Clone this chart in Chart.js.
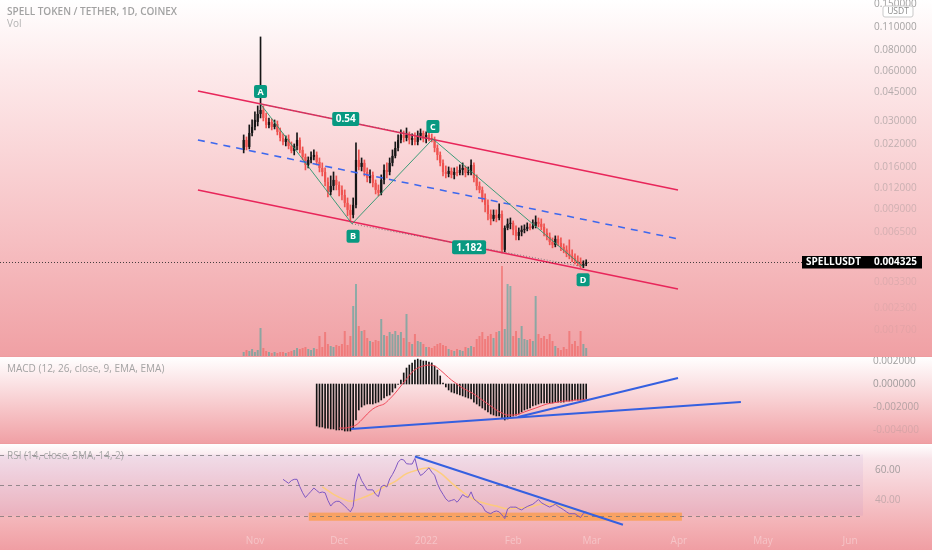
<!DOCTYPE html>
<html>
<head>
<meta charset="utf-8">
<title>SPELLUSDT</title>
<script src="https://cdn.jsdelivr.net/npm/chart.js@4.4.1/dist/chart.umd.min.js"></script>
<style>
html,body{margin:0;padding:0;}
body{width:932px;height:550px;overflow:hidden;background:#ee9ca0;position:relative;font-family:'Open Sans',sans-serif;}
.pane{position:absolute;left:0;width:932px;}
#pane1{top:0;height:356px;background:linear-gradient(to bottom,#ffffff 0px,#fdeaeb 70px,#fad6d8 150px,#f6bfc2 240px,#f0a0a4 356px);}
#pane2{top:357px;height:86px;background:linear-gradient(to bottom,#ffffff 0%,#fbe3e5 30%,#f6c1c4 65%,#f0a0a5 100%);}
#pane3{top:444px;height:106px;background:linear-gradient(to bottom,#ffffff 0%,#f9e4e9 14%,#f6cbd0 45%,#f3b0b4 78%,#f09ea3 100%);}
canvas{position:absolute;left:0;top:0;}
.lbl{position:absolute;left:7px;font-size:10px;line-height:14px;white-space:nowrap;z-index:5;}
</style>
</head>
<body>
<div class="pane" id="pane1"><canvas id="c1" width="932" height="356"></canvas></div>
<div class="pane" id="pane2"><canvas id="c2" width="932" height="86"></canvas></div>
<div class="pane" id="pane3"><canvas id="c3" width="932" height="106"></canvas></div>
<div class="lbl" style="top:4px;font-weight:600;color:#a2a2a2">SPELL TOKEN / TETHER, 1D, COINEX</div>
<div class="lbl" style="top:16px;color:#b3b3b3">Vol</div>
<div class="lbl" style="top:361px;color:#a3a3a3">MACD (12, 26, close, 9, EMA, EMA)</div>
<div class="lbl" style="top:448px;color:#a8a8a8">RSI (14, close, SMA, 14, 2)</div>
<script>
Chart.defaults.font.family = "'Open Sans', sans-serif";
Chart.defaults.font.size = 10;

// ---------- DATA ----------
// day index counted from 1 Nov 2021 (first candle = 28 Oct 2021)
const firstDay = -4;
const openP = [.02027,.02325,.02112,.02560,.02780,.02978,.03324,.03512,.03146,.02858,
.02978,.02780,.02897,.02595,.02390,.02262,.02357,.02141,.01999,.02141,
.02325,.02027,.01841,.01649,.01766,.01841,.01892,.01718,.01582,.01497,
.01305,.01137,.01235,.01341,.01252,.01169,.01091,.00978,.00888,.00829,
.00951,.01766,.01604,.01695,.01497,.01379,.01437,.01287,.01169,.01122,
.01341,.01539,.01497,.01695,.01866,.02083,.02325,.02491,.02390,.02491,
.02325,.02390,.02262,.02457,.02560,.02357,.02491,.02390,.02325,.02083,
.01892,.01695,.01497,.01457,.01518,.01437,.01497,.01477,.01539,.01582,
.01477,.01497,.01649,.01379,.01235,.01169,.01047,.00951,.00840,.00785,
.00829,.00795,.00840,.00513,.00693,.00733,.00743,.00675,.00621,.00656,
.00675,.00684,.00703,.00693,.00713,.00753,.00733,.00703,.00647,.00613,
.00572,.00549,.00596,.00564,.00534,.00513,.00485,.00472,.00459,.00441,
.00435,.00412,.00423];
const highP = [.02491,.02423,.02858,.03061,.03417,.03711,.0959,.03711,.03370,.03146,
.03103,.03061,.03019,.02742,.02525,.02457,.02491,.02262,.02201,.02560,
.02390,.02112,.01918,.01841,.01972,.02027,.01972,.01815,.01695,.01582,
.01379,.01417,.01497,.01417,.01305,.01235,.01169,.01047,.00951,.01047,
.02231,.02027,.01815,.01766,.01582,.01539,.01497,.01341,.01252,.01437,
.01649,.01695,.01815,.02027,.02262,.02491,.02668,.02631,.02742,.02595,
.02525,.02560,.02631,.02705,.02631,.02595,.02668,.02525,.02423,.02171,
.01972,.01766,.01626,.01604,.01582,.01582,.01604,.01649,.01695,.01626,
.01604,.01766,.01695,.01437,.01305,.01218,.01106,.01019,.00888,.00888,
.00888,.00964,.00876,.00713,.00785,.00795,.00763,.00713,.00693,.00713,
.00723,.00743,.00733,.00774,.00818,.00795,.00785,.00733,.00684,.00647,
.00604,.00621,.00621,.00604,.00557,.00542,.00588,.00513,.00485,.00472,
.00459,.00441,.00447];
const lowP = [.01945,.02027,.02055,.02457,.02668,.02819,.03146,.03019,.02742,.02742,
.02668,.02705,.02491,.02293,.02171,.02141,.02055,.01945,.01892,.02027,
.01945,.01766,.01539,.01582,.01695,.01766,.01649,.01497,.01417,.01235,
.01062,.01091,.01169,.01169,.01076,.01019,.00925,.00818,.00753,.00795,
.00913,.01539,.01518,.01417,.01305,.01287,.01218,.01106,.01076,.01091,
.01270,.01379,.01437,.01626,.01815,.01999,.02231,.02262,.02293,.02201,
.02171,.02171,.02171,.02325,.02262,.02231,.02293,.02262,.01972,.01766,
.01626,.01417,.01379,.01398,.01379,.01360,.01417,.01437,.01437,.01398,
.01437,.01437,.01305,.01169,.01122,.00991,.00864,.00774,.00723,.00763,
.00753,.00774,.00492,.00499,.00675,.00684,.00630,.00588,.00588,.00621,
.00647,.00665,.00675,.00684,.00693,.00703,.00675,.00621,.00588,.00549,
.00527,.00534,.00542,.00506,.00492,.00466,.00453,.00435,.00423,.00412,
.00401,.00401,.00412];
const closeP = [.02325,.02112,.02560,.02780,.03061,.03324,.03512,.03146,.02858,.02978,
.02780,.02897,.02595,.02390,.02262,.02357,.02141,.01999,.02141,.02325,
.02027,.01841,.01649,.01766,.01841,.01892,.01718,.01582,.01497,.01305,
.01137,.01235,.01341,.01252,.01169,.01091,.00978,.00888,.00829,.00951,
.01766,.01604,.01695,.01497,.01379,.01437,.01287,.01169,.01122,.01341,
.01539,.01497,.01695,.01866,.02083,.02325,.02491,.02390,.02491,.02325,
.02390,.02262,.02457,.02560,.02357,.02491,.02390,.02325,.02083,.01892,
.01695,.01497,.01457,.01518,.01437,.01497,.01477,.01539,.01582,.01477,
.01497,.01649,.01379,.01235,.01169,.01047,.00951,.00840,.00785,.00829,
.00795,.00840,.00513,.00693,.00733,.00743,.00675,.00621,.00656,.00675,
.00684,.00703,.00693,.00713,.00753,.00733,.00703,.00647,.00613,.00572,
.00549,.00596,.00564,.00534,.00513,.00485,.00472,.00459,.00441,.00435,
.00412,.00423,.004325];
// volume (millions of SPELL)
const volume = [160,240,200,280,160,240,1120,320,200,160,
120,160,120,160,160,120,160,200,240,320,
280,320,360,280,240,320,280,800,360,960,
480,400,360,440,400,480,1000,440,800,2000,
2880,1200,1000,1040,720,600,560,640,600,1480,
840,800,960,880,1000,840,960,720,1680,560,
480,880,600,560,480,360,360,320,400,480,
520,440,400,280,240,200,280,240,200,360,
320,400,360,680,800,960,680,800,880,720,
960,1000,3600,1080,2880,2800,800,1000,720,1200,
680,640,680,600,2400,880,720,800,680,880,
600,400,320,240,360,280,1000,480,600,400,
1000,480,320];
const lastPrice = 0.004325;

// MACD (histogram-style MACD line from day 22, signal line)
const macdStart = 22;
const macdHist = [-0.00365,-0.00374,-0.00374,-0.00383,-0.00383,-0.00391,-0.00391,-0.00400,-0.00400,-0.00400,
-0.00409,-0.00409,-0.00409,-0.00383,-0.00313,-0.00226,-0.00200,-0.00183,-0.00174,-0.00174,
-0.00174,-0.00165,-0.00157,-0.00139,-0.00122,-0.00104,-0.00096,-0.00070,-0.00035,-0.00003,
0.00035,0.00096,0.00139,0.00165,0.00183,0.00209,0.00217,0.00209,0.00200,0.00200,
0.00191,0.00183,0.00157,0.00122,0.00070,0.00009,-0.00026,-0.00052,-0.00070,-0.00078,
-0.00087,-0.00096,-0.00104,-0.00113,-0.00122,-0.00130,-0.00157,-0.00174,-0.00191,-0.00209,
-0.00226,-0.00243,-0.00261,-0.00270,-0.00278,-0.00278,-0.00296,-0.00313,-0.00304,-0.00296,
-0.00278,-0.00270,-0.00261,-0.00243,-0.00226,-0.00217,-0.00209,-0.00191,-0.00183,-0.00174,
-0.00165,-0.00165,-0.00165,-0.00165,-0.00165,-0.00157,-0.00157,-0.00157,-0.00157,-0.00148,
-0.00148,-0.00148,-0.00139,-0.00139,-0.00139,-0.00139,-0.00130];
const signalDays = [30,32,34,36,38,40,42,44,46,48,50,52,54,56,58,60,62,64,66,68,70,72,74,76,78,80,82,84,86,88,90,92,94,96,98,100,102,104,106,108,110,112,114,116,118];
const signalVals = [-0.00383,-0.00383,-0.00374,-0.00357,-0.00313,-0.00261,-0.00217,-0.00191,-0.00174,-0.00130,
-0.00078,-0.00017,0.00043,0.00104,0.00139,0.00157,0.00165,0.00157,0.00122,0.00078,
0.00035,0.00000,-0.00035,-0.00061,-0.00087,-0.00122,-0.00157,-0.00191,-0.00226,-0.00252,
-0.00270,-0.00270,-0.00261,-0.00243,-0.00226,-0.00209,-0.00191,-0.00174,-0.00165,-0.00157,
-0.00148,-0.00148,-0.00139,-0.00139,-0.00130];

// RSI (14) from day 10 and its SMA
const rsiStart = 10;
const rsiVals = [53.8,52.5,51.2,53.0,53.8,53.8,49.0,45.0,41.9,44.0,
46.0,48.1,46.5,45.0,45.5,45.0,40.0,36.3,38.5,39.4,
39.4,38.0,36.3,34.5,32.5,36.0,52.0,57.5,53.0,50.0,
46.9,46.9,46.9,44.0,42.5,49.0,50.0,48.8,54.0,57.0,
60.6,65.0,66.9,66.5,64.0,63.8,63.8,67.5,60.0,56.3,
57.5,59.5,61.3,58.5,56.5,51.0,47.0,44.0,41.0,39.4,
40.0,40.6,38.8,41.0,43.8,42.5,42.0,45.6,41.0,39.4,
37.8,36.5,33.1,32.0,31.3,32.5,33.1,32.5,30.5,28.1,
34.4,35.6,35.6,35.6,34.5,33.8,35.0,36.0,36.8,37.5,
39.0,40.6,38.5,37.5,36.5,35.6,36.5,37.5,36.0,35.0,
33.8,32.5,31.3,31.3,31.3,30.0,28.8,31.5,32.5];
const rsiMaDays = [24,28,32,34,38,42,46,50,54,58,62,66,70,74,78,82,86,90,94,98,102,106,110,114,118];
const rsiMaVals = [48.8,44.0,40.5,39.4,41.5,44.5,48.8,52.5,57.5,60.0,61.3,58.0,51.5,45.5,40.6,38.0,36.3,34.5,35.0,35.6,37.5,37.5,35.6,33.8,32.5];
const rsiLevels = [70, 50, 30];

// Drawings (day, value)
const channelDays = [-20.3, 150.7];
const channelUpper = [0.0456, 0.01169];
const channelMid = [0.02325, 0.00596];
const channelLower = [0.01169, 0.002992];
const pivotNames = ['A','B','C','D'];
const pivotDays = [2, 34.6, 63.4, 116.9];
const pivotPrices = [0.0381, 0.00733, 0.02357, 0.00406];
const ratioLabels = ['0.54', '1.182'];
const macdTrend1Days = [34.2, 173.1], macdTrend1Vals = [-0.00391, -0.00157];
const macdTrend2Days = [93.7, 150.7], macdTrend2Vals = [-0.00287, 0.00052];
const rsiTrendDays = [57, 131.1], rsiTrendVals = [68.7, 24.1];
const rsiZoneDays = [19.2, 152.1], rsiZoneVals = [26.7, 32.0];

// Axes
const priceTicks = [0.15,0.11,0.08,0.06,0.045,0.03,0.022,0.016,0.012,0.009,0.0065,0.0033,0.0023,0.0017];
const macdTicks = [0.002, 0, -0.002, -0.004];
const rsiTicks = [60, 40];
const monthDays = [0, 30, 61, 92, 120, 151, 181, 212];
const monthLabels = ['Nov','Dec','2022','Feb','Mar','Apr','May','Jun'];
const xRange = [-90.8, 216.6];
const priceRange = [0.00119, 0.1594];
const volRange = [0, 14240];
const macdRange = [-0.00513, 0.002348];
const rsiRange = [22.6, 75.6];

// ---------- HELPERS ----------
const days = openP.map((_, i) => firstDay + i);
const isUp = closeP.map((c, i) => c >= openP[i]);
const candleCol = isUp.map(u => u ? '#161616' : '#ef5350');
const volCol = isUp.map(u => u ? 'rgba(38,166,154,0.5)' : 'rgba(239,83,80,0.5)');
const pts = (xs, ys) => xs.map((x, i) => ({x, y: ys[i]}));
const seq = (start, vals) => vals.map((v, i) => ({x: start + i, y: v}));

function rightAxis(extra) {
  return Object.assign({
    position: 'right',
    grid: {display: false, drawTicks: false},
    border: {display: false},
    afterFit(s) { s.width = 69; s.paddingTop = 0; s.paddingBottom = 0; }
  }, extra);
}
function xAxis(extra) {
  return Object.assign({
    type: 'linear', min: xRange[0], max: xRange[1], offset: false, display: false,
    grid: {display: false, drawTicks: false}, border: {display: false}
  }, extra);
}
const baseOpts = () => ({
  responsive: false, maintainAspectRatio: false, animation: false, events: [],
  plugins: {legend: {display: false}, tooltip: {enabled: false}},
  layout: {padding: 0}
});
function roundRect(ctx, x, y, w, h, r) {
  ctx.beginPath();
  ctx.moveTo(x + r, y);
  ctx.arcTo(x + w, y, x + w, y + h, r);
  ctx.arcTo(x + w, y + h, x, y + h, r);
  ctx.arcTo(x, y + h, x, y, r);
  ctx.arcTo(x, y, x + w, y, r);
  ctx.closePath();
}
function tag(ctx, text, cx, cy, w, h, font) {
  roundRect(ctx, cx - w / 2, cy - h / 2, w, h, 2);
  ctx.fillStyle = '#089981'; ctx.fill();
  ctx.fillStyle = '#ffffff'; ctx.font = font;
  ctx.textAlign = 'center'; ctx.textBaseline = 'middle';
  ctx.fillText(text, cx, cy + 0.5);
}
function line(data, color, width, dash, order, extra) {
  return Object.assign({type: 'line', data, borderColor: color, borderWidth: width, borderDash: dash || [],
    pointRadius: 0, fill: false, tension: 0, order, yAxisID: 'y'}, extra || {});
}

// ---------- MAIN PRICE PANE ----------
const mainPlugin = {
  id: 'mainDecor',
  afterDraw(chart) {
    const {ctx, chartArea: a, scales: {x, y}} = chart;
    ctx.save();
    const py = Math.round(y.getPixelForValue(lastPrice)) + 0.5;
    ctx.strokeStyle = 'rgba(40,40,40,0.85)'; ctx.lineWidth = 1; ctx.setLineDash([1, 2]);
    ctx.beginPath(); ctx.moveTo(a.left, py); ctx.lineTo(a.right - 61, py); ctx.stroke();
    ctx.setLineDash([]);
    const pp = pivotDays.map((d, i) => [x.getPixelForValue(d), y.getPixelForValue(pivotPrices[i])]);
    const offs = [-12.5, 12.5, -12.5, 13];
    pivotNames.forEach((n, i) => tag(ctx, n, pp[i][0] + (i === 1 ? 1 : 0), pp[i][1] + offs[i], 13, 13, 'bold 9px "Open Sans"'));
    const m1 = [(pp[0][0] + pp[2][0]) / 2, (pp[0][1] + pp[2][1]) / 2];
    const m2 = [(pp[1][0] + pp[3][0]) / 2, (pp[1][1] + pp[3][1]) / 2];
    tag(ctx, ratioLabels[0], m1[0] - 1, m1[1] - 2.5, 27, 14, 'bold 10px "Open Sans"');
    tag(ctx, ratioLabels[1], m2[0] + 1.5, m2[1] + 2, 34, 14, 'bold 10px "Open Sans"');
    // last price label
    ctx.fillStyle = '#000'; ctx.fillRect(a.right - 61, py - 6.5, 120, 12.5);
    ctx.fillStyle = '#fff'; ctx.font = 'bold 10px "Open Sans"';
    ctx.textAlign = 'left'; ctx.textBaseline = 'middle';
    ctx.fillText('SPELLUSDT', a.right - 57, py);
    ctx.fillText(lastPrice.toFixed(6), a.right + 11, py);
    // currency box
    roundRect(ctx, a.right + 20, 6, 30, 11, 2);
    ctx.fillStyle = '#fff'; ctx.fill(); ctx.strokeStyle = '#c9c9c9'; ctx.lineWidth = 1; ctx.stroke();
    ctx.fillStyle = '#8c8c8c'; ctx.font = '8.5px "Open Sans"'; ctx.textAlign = 'center';
    ctx.fillText('USDT', a.right + 35, 11.8);
    ctx.restore();
  }
};

new Chart(document.getElementById('c1'), {
  type: 'bar',
  data: {datasets: [
    line(pts(channelDays, channelUpper), '#e8265a', 1.6, null, 2),
    line(pts(channelDays, channelMid), '#3d68ee', 1.6, [7, 6], 2),
    line(pts(channelDays, channelLower), '#e8265a', 1.6, null, 2),
    line(pts(pivotDays, pivotPrices), 'rgba(40,150,110,0.9)', 1, null, 1),
    line(pts([pivotDays[0], pivotDays[2]], [pivotPrices[0], pivotPrices[2]]), 'rgba(110,110,110,0.8)', 1, [1, 2], 1),
    line(pts([pivotDays[1], pivotDays[3]], [pivotPrices[1], pivotPrices[3]]), 'rgba(110,110,110,0.8)', 1, [1, 2], 1),
    {type: 'bar', data: days.map((d, i) => ({x: d, y: [lowP[i], highP[i]]})), backgroundColor: candleCol,
      grouped: false, categoryPercentage: 1, barPercentage: 1, maxBarThickness: 1, order: 5, yAxisID: 'y'},
    {type: 'bar', data: days.map((d, i) => ({x: d, y: [openP[i], closeP[i]]})), backgroundColor: candleCol,
      grouped: false, categoryPercentage: 1, barPercentage: 0.8, minBarLength: 1, order: 4, yAxisID: 'y'},
    {type: 'bar', data: days.map((d, i) => ({x: d, y: volume[i]})), backgroundColor: volCol,
      grouped: false, categoryPercentage: 1, barPercentage: 0.7, order: 10, yAxisID: 'yv'}
  ]},
  options: Object.assign(baseOpts(), {
    scales: {
      x: xAxis(),
      y: rightAxis({
        type: 'logarithmic', min: priceRange[0], max: priceRange[1], bounds: 'data',
        afterBuildTicks(s) { s.ticks = priceTicks.map(v => ({value: v})); },
        ticks: {
          autoSkip: false, padding: 11, crossAlign: 'near', font: {size: 10},
          callback: v => Number(v).toFixed(6),
          color: c => {
            const f = (Math.log(priceRange[1]) - Math.log(c.tick.value)) / (Math.log(priceRange[1]) - Math.log(priceRange[0]));
            return 'rgba(135,135,135,' + Math.max(0.12, 0.82 - 0.78 * f).toFixed(2) + ')';
          }
        }
      }),
      yv: {type: 'linear', display: false, min: volRange[0], max: volRange[1]}
    }
  }),
  plugins: [mainPlugin]
});

// ---------- MACD PANE ----------
new Chart(document.getElementById('c2'), {
  type: 'bar',
  data: {datasets: [
    line(pts(macdTrend1Days, macdTrend1Vals), '#3560e0', 2, null, 1),
    line(pts(macdTrend2Days, macdTrend2Vals), '#3560e0', 2, null, 1),
    line(pts(signalDays, signalVals), '#ef4a5a', 1, null, 2, {tension: 0.4, cubicInterpolationMode: 'monotone'}),
    {type: 'bar', data: seq(macdStart, macdHist), backgroundColor: '#141414',
      grouped: false, categoryPercentage: 1, barPercentage: 1, maxBarThickness: 1, order: 5, yAxisID: 'y'}
  ]},
  options: Object.assign(baseOpts(), {
    scales: {
      x: xAxis(),
      y: rightAxis({
        type: 'linear', min: macdRange[0], max: macdRange[1],
        afterBuildTicks(s) { s.ticks = macdTicks.map(v => ({value: v})); },
        ticks: {
          autoSkip: false, padding: 10, crossAlign: 'near', font: {size: 10},
          callback: v => Number(v).toFixed(6),
          color: c => c.tick.value < -0.003 ? 'rgba(135,135,135,0.25)' : (c.tick.value < -0.001 ? 'rgba(135,135,135,0.6)' : 'rgba(135,135,135,0.8)')
        }
      })
    }
  })
});

// ---------- RSI PANE ----------
const rsiPlugin = {
  id: 'rsiDecor',
  beforeDatasetsDraw(chart) {
    const {ctx, chartArea: a, scales: {x, y}} = chart;
    ctx.save();
    const t = y.getPixelForValue(rsiLevels[0]), b = y.getPixelForValue(rsiLevels[2]);
    ctx.fillStyle = 'rgba(126,87,194,0.07)';
    ctx.fillRect(a.left, t, a.right - a.left, b - t);
    const zx0 = x.getPixelForValue(rsiZoneDays[0]), zx1 = x.getPixelForValue(rsiZoneDays[1]);
    const zy0 = y.getPixelForValue(rsiZoneVals[1]), zy1 = y.getPixelForValue(rsiZoneVals[0]);
    ctx.fillStyle = 'rgba(255,150,40,0.6)';
    ctx.fillRect(zx0, zy0, zx1 - zx0, zy1 - zy0);
    ctx.strokeStyle = 'rgba(110,110,110,0.7)'; ctx.lineWidth = 1; ctx.setLineDash([4, 4]);
    rsiLevels.forEach(v => {
      const py = Math.round(y.getPixelForValue(v)) + 0.5;
      ctx.beginPath(); ctx.moveTo(a.left, py); ctx.lineTo(a.right, py); ctx.stroke();
    });
    ctx.restore();
  }
};

new Chart(document.getElementById('c3'), {
  type: 'line',
  data: {datasets: [
    line(pts(rsiTrendDays, rsiTrendVals), '#3560e0', 2, null, 1),
    line(seq(rsiStart, rsiVals), '#7e57c2', 1, null, 2),
    line(pts(rsiMaDays, rsiMaVals), 'rgba(255,205,110,0.85)', 1.5, null, 3, {tension: 0.4, cubicInterpolationMode: 'monotone'})
  ]},
  options: Object.assign(baseOpts(), {
    layout: {padding: {top: 2}},
    scales: {
      x: xAxis({
        display: true,
        afterBuildTicks(s) { s.ticks = monthDays.map(v => ({value: v})); },
        afterFit(s) { s.height = 23; s.paddingLeft = 0; s.paddingRight = 0; },
        ticks: {autoSkip: false, maxRotation: 0, padding: 8, font: {size: 10},
          color: 'rgba(255,255,255,0.35)',
          callback: v => monthLabels[monthDays.indexOf(v)]}
      }),
      y: rightAxis({
        type: 'linear', min: rsiRange[0], max: rsiRange[1],
        afterBuildTicks(s) { s.ticks = rsiTicks.map(v => ({value: v})); },
        ticks: {autoSkip: false, padding: 12, crossAlign: 'near', font: {size: 10},
          callback: v => Number(v).toFixed(2),
          color: c => c.tick.value > 50 ? 'rgba(135,135,135,0.75)' : 'rgba(135,135,135,0.45)'}
      })
    }
  }),
  plugins: [rsiPlugin]
});
</script>
</body>
</html>
